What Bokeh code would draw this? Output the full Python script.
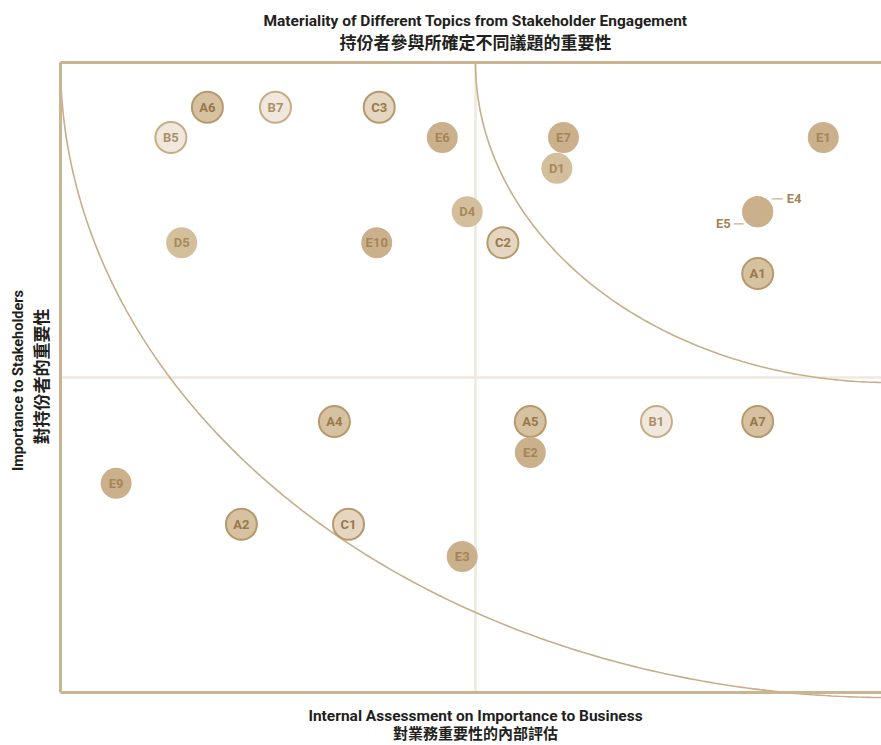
import numpy as np
from bokeh.plotting import figure
from bokeh.models import Range1d, ColumnDataSource
from bokeh.core.properties import value
from bokeh.embed import file_html
from bokeh.resources import INLINE

# ---- data ----
labels = ["A6", "B7", "C3", "B5", "E6", "E7", "E1", "D1", "D4", "E4", "E5",
          "D5", "E10", "C2", "A1", "A4", "A5", "B1", "A7", "E2", "E9", "A2",
          "C1", "E3"]
business = [1.77, 2.59, 3.84, 1.33, 4.60, 6.06, 9.19, 5.98, 4.90, 8.40, 8.40,
            1.46, 3.81, 5.33, 8.40, 3.30, 5.66, 7.18, 8.40, 5.66, 0.67, 2.18,
            3.47, 4.84]
stakeholders = [9.29, 9.29, 9.29, 8.81, 8.81, 8.81, 8.81, 8.32, 7.63, 7.63, 7.63,
                7.14, 7.14, 7.14, 6.65, 4.30, 4.30, 4.30, 4.30, 3.81, 3.32, 2.67,
                2.67, 2.16]
callouts = ["E4", "E5"]

title_en = "Materiality of Different Topics from Stakeholder Engagement"
title_zh = "持份者參與所確定不同議題的重要性"
xlab_en = "Internal Assessment on Importance to Business"
xlab_zh = "對業務重要性的內部評估"
ylab_en = "Importance to Stakeholders"
ylab_zh = "對持份者的重要性"

# ---- styles per group ----
styles = {
    "A": dict(fill="#d6c1a0", line="#b8996c", lw=2.0, txt="#9a784c"),
    "B": dict(fill="#f0e8dc", line="#c7ad86", lw=2.0, txt="#ad9068"),
    "C": dict(fill="#e4d6c0", line="#b8996c", lw=2.0, txt="#9a784c"),
    "D": dict(fill="#d4bf9c", line="#d4bf9c", lw=0.0, txt="#a8885c"),
    "E": dict(fill="#cbb18b", line="#cbb18b", lw=0.0, txt="#a5845a"),
}

FONT = "Roboto"
CJK = "Noto Sans CJK TC"
FRAME = "#c9b592"
CURVE = "#c8ae88"
MID = "#efe8dd"
DARK = "#231f1c"

# pixel scale: x -> 60 + 83*x ; y -> 692 - 63*y
SX, SY = 83.0, 63.0
p = figure(width=881, height=745,
           x_range=Range1d(-60 / SX, 821 / SX), y_range=Range1d(-53 / SY, 692 / SY),
           output_backend="svg", toolbar_location=None,
           min_border=0)
p.axis.visible = False
p.grid.visible = False
p.outline_line_color = None
p.background_fill_color = "white"
p.border_fill_color = "white"

XMID = 5.0
XEND = 821 / SX

# titles / axis labels as text
p.text([XMID], [(692 - 20) / SY], text=[title_en], text_align="center", text_baseline="middle",
       text_font=value(FONT), text_font_style="bold", text_font_size="15.5px", text_color=DARK)
p.text([XMID], [(692 - 41) / SY], text=[title_zh], text_align="center", text_baseline="middle",
       text_font=value(CJK), text_font_style="bold", text_font_size="17px", text_color=DARK)
p.text([XMID], [(692 - 715) / SY], text=[xlab_en], text_align="center", text_baseline="middle",
       text_font=value(FONT), text_font_style="bold", text_font_size="15.5px", text_color=DARK)
p.text([XMID], [(692 - 732) / SY], text=[xlab_zh], text_align="center", text_baseline="middle",
       text_font=value(CJK), text_font_style="bold", text_font_size="15px", text_color=DARK)
p.text([(18 - 60) / SX], [(692 - 380) / SY], text=[ylab_en], angle=np.pi / 2,
       text_align="center", text_baseline="middle",
       text_font=value(FONT), text_font_style="bold", text_font_size="14.5px", text_color=DARK)
p.text([(40 - 60) / SX], [(692 - 376) / SY], text=[ylab_zh], angle=np.pi / 2,
       text_align="center", text_baseline="middle",
       text_font=value(CJK), text_font_style="bold", text_font_size="17px", text_color=DARK)

# mid lines
p.line([5, 5], [0, 10], line_color=MID, line_width=2.5)
p.line([0, XEND], [5, 5], line_color=MID, line_width=2.5)

# quarter-ellipse curves centred on the top-right corner
t = np.linspace(np.pi, 1.5 * np.pi, 200)
for rx, ry in [(10.0, 10.08), (5.0, 5.08)]:
    p.line(10 + rx * np.cos(t), 10 + ry * np.sin(t), line_color=CURVE, line_width=1.6)

# frame lines
p.line([0, XEND], [10, 10], line_color=FRAME, line_width=3)
p.line([0, 0], [0, 10], line_color=FRAME, line_width=3)
p.line([0, XEND], [0, 0], line_color=FRAME, line_width=3)

# bubbles
grp = [l[0] for l in labels]
src = ColumnDataSource(dict(
    x=business, y=stakeholders,
    label=[("" if l in callouts else l) for l in labels],
    fill=[styles[g]["fill"] for g in grp],
    line=[styles[g]["line"] for g in grp],
    lw=[styles[g]["lw"] for g in grp],
    txt=[styles[g]["txt"] for g in grp],
))
p.scatter("x", "y", source=src, marker="circle", size=31,
          fill_color="fill", line_color="line", line_width="lw")
p.text("x", "y", text="label", source=src, text_align="center",
       text_baseline="middle", text_font=value(FONT), text_font_style="bold",
       text_font_size="13px", text_color="txt")

# callouts for overlapping E4 / E5
i4 = labels.index("E4")
i5 = labels.index("E5")
x4, y4 = business[i4], stakeholders[i4]
x5, y5 = business[i5], stakeholders[i5]
p.segment([x4 + 14 / SX, x5 - 24 / SX], [y4 + 13 / SY, y5 - 12 / SY],
          [x4 + 25 / SX, x5 - 14 / SX], [y4 + 13 / SY, y5 - 12 / SY],
          line_color=CURVE, line_width=1.2)
p.text([x4], [y4], text=["E4"], x_offset=29, y_offset=-13, text_align="left",
       text_baseline="middle", text_font=value(FONT), text_font_style="bold",
       text_font_size="13px", text_color="#a5845a")
p.text([x5], [y5], text=["E5"], x_offset=-27, y_offset=12, text_align="right",
       text_baseline="middle", text_font=value(FONT), text_font_style="bold",
       text_font_size="13px", text_color="#a5845a")

open("out.html", "w").write(file_html(p, INLINE))
